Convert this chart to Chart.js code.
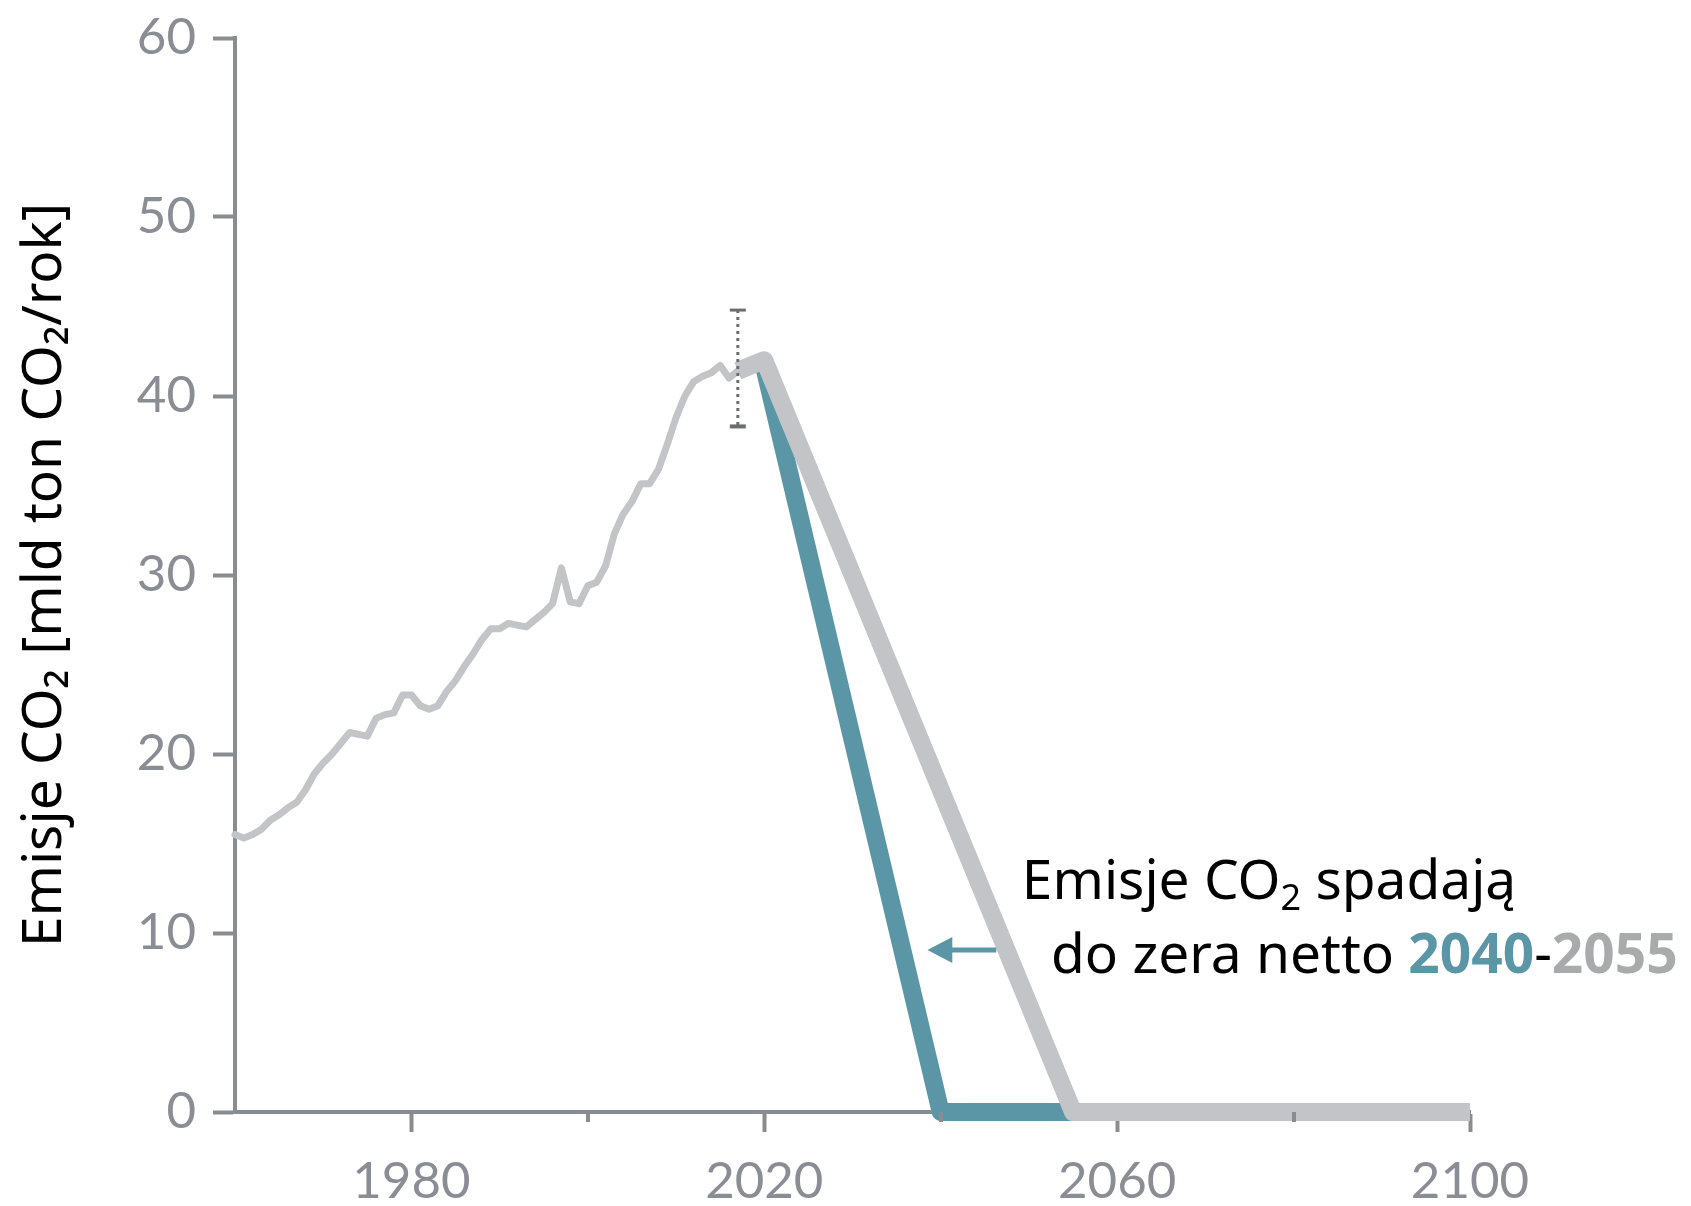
<!DOCTYPE html>
<html lang="pl">
<head>
<meta charset="utf-8">
<title>Emisje CO2 spadają do zera netto</title>
<script src="https://cdn.jsdelivr.net/npm/chart.js@4.4.1/dist/chart.umd.min.js"></script>
<style>
    html, body { margin: 0; padding: 0; background: #ffffff; }
    #wrap { width: 1691px; height: 1206px; }
</style>
</head>
<body>
<div id="wrap"><canvas id="chart" width="1691" height="1206"></canvas></div>
<script>
// Historical emissions (mld ton CO2 / rok)
const histYears = [
    1960, 1961, 1962, 1963, 1964, 1965, 1966, 1967, 1968, 1969,
    1970, 1971, 1972, 1973, 1974, 1975, 1976, 1977, 1978, 1979,
    1980, 1981, 1982, 1983, 1984, 1985, 1986, 1987, 1988, 1989,
    1990, 1991, 1992, 1993, 1994, 1995, 1996, 1997, 1998, 1999,
    2000, 2001, 2002, 2003, 2004, 2005, 2006, 2007, 2008, 2009,
    2010, 2011, 2012, 2013, 2014, 2015, 2016, 2017
];
const histValues = [
    15.5, 15.3, 15.5, 15.8, 16.3, 16.6, 17.0, 17.3, 18.0, 18.9,
    19.5, 20.0, 20.6, 21.2, 21.1, 21.0, 22.0, 22.2, 22.3, 23.3,
    23.3, 22.7, 22.5, 22.7, 23.5, 24.1, 24.9, 25.6, 26.4, 27.0,
    27.0, 27.3, 27.2, 27.1, 27.5, 27.9, 28.4, 30.4, 28.5, 28.4,
    29.4, 29.6, 30.5, 32.3, 33.4, 34.1, 35.1, 35.1, 35.9, 37.3,
    38.8, 40.0, 40.8, 41.1, 41.3, 41.7, 41.0, 41.4
];

// Pathway reaching net zero in 2055 (grey)
const slowYears = [2017, 2020, 2055, 2100];
const slowValues = [41.4, 42.0, 0, 0];

// Pathway reaching net zero in 2040 (teal)
const fastYears = [2020, 2040, 2055];
const fastValues = [41.6, 0, 0];

// Uncertainty range around present emissions
const rangeYear = 2017;
const rangeLow = 38.3;
const rangeHigh = 44.8;

// Axis ticks
const xLabelYears = [1980, 2020, 2060, 2100];
const xMinorYears = [2000, 2040, 2080];
const yTickValues = [0, 10, 20, 30, 40, 50, 60];

const AXIS = '#898c91';
const LABEL = '#8a8e94';
const GREY = '#c3c4c8';
const TEAL = '#5b96a7';
const TEXT_FONT = '"Noto Sans", "Open Sans", sans-serif';

function toPoints(xs, ys) {
    return xs.map((x, i) => ({ x: x, y: ys[i] }));
}

// Short unlabeled ticks at 2000, 2040, 2080
const minorTicks = {
    id: 'minorTicks',
    afterDraw(chart) {
        const ctx = chart.ctx;
        const x = chart.scales.x;
        const yb = chart.chartArea.bottom;
        ctx.save();
        ctx.strokeStyle = AXIS;
        ctx.lineWidth = 4;
        xMinorYears.forEach(yr => {
            const px = Math.round(x.getPixelForValue(yr));
            ctx.beginPath();
            ctx.moveTo(px, yb);
            ctx.lineTo(px, yb + 10);
            ctx.stroke();
        });
        ctx.restore();
    }
};

// Dotted range bar
const rangeBar = {
    id: 'rangeBar',
    afterDatasetsDraw(chart) {
        const ctx = chart.ctx;
        const x = chart.scales.x.getPixelForValue(rangeYear);
        const yTop = chart.scales.y.getPixelForValue(rangeHigh);
        const yBot = chart.scales.y.getPixelForValue(rangeLow);
        ctx.save();
        ctx.strokeStyle = '#6d6e70';
        ctx.lineWidth = 3;
        ctx.setLineDash([3, 4]);
        ctx.beginPath();
        ctx.moveTo(x, yTop);
        ctx.lineTo(x, yBot);
        ctx.stroke();
        ctx.setLineDash([]);
        ctx.fillStyle = '#6d6e70';
        ctx.fillRect(x - 8, yTop - 1.5, 16, 3);
        ctx.fillRect(x - 8, yBot - 2, 16, 4);
        ctx.restore();
    }
};

// Text annotation and arrow
const annotation = {
    id: 'annotation',
    afterDatasetsDraw(chart) {
        const ctx = chart.ctx;
        const xs = chart.scales.x;
        const ys = chart.scales.y;
        ctx.save();
        ctx.textBaseline = 'alphabetic';
        ctx.textAlign = 'left';

        // line 1: Emisje CO2 spadają
        let px = xs.getPixelForValue(2049.2);
        let py = ys.getPixelForValue(11.9);
        const normal = '55px ' + TEXT_FONT;
        const sub = '36px ' + TEXT_FONT;
        const bold = 'bold 55px ' + TEXT_FONT;
        const line1 = [
            { t: 'Emisje CO', f: normal, c: '#000000', dy: 0 },
            { t: '2', f: sub, c: '#000000', dy: 11 },
            { t: ' spadają', f: normal, c: '#000000', dy: 0 }
        ];
        line1.forEach(p => {
            ctx.font = p.f;
            ctx.fillStyle = p.c;
            ctx.fillText(p.t, px, py + p.dy);
            px += ctx.measureText(p.t).width;
        });

        // line 2: do zera netto 2040-2055
        px = xs.getPixelForValue(2052.5);
        py = ys.getPixelForValue(7.77);
        const line2 = [
            { t: 'do zera netto ', f: normal, c: '#000000' },
            { t: '2040', f: bold, c: TEAL },
            { t: '-', f: normal, c: '#000000' },
            { t: '2055', f: bold, c: '#a9aaac' }
        ];
        line2.forEach(p => {
            ctx.font = p.f;
            ctx.fillStyle = p.c;
            ctx.fillText(p.t, px, py);
            px += ctx.measureText(p.t).width;
        });

        // arrow pointing at the teal pathway
        const ay = ys.getPixelForValue(9.05);
        const tail = xs.getPixelForValue(2046.3);
        const base = xs.getPixelForValue(2041.2);
        const tip = xs.getPixelForValue(2038.5);
        ctx.strokeStyle = TEAL;
        ctx.fillStyle = TEAL;
        ctx.lineWidth = 5;
        ctx.beginPath();
        ctx.moveTo(tail, ay);
        ctx.lineTo(base, ay);
        ctx.stroke();
        ctx.beginPath();
        ctx.moveTo(tip, ay);
        ctx.lineTo(base + 1, ay - 13);
        ctx.lineTo(base + 1, ay + 13);
        ctx.closePath();
        ctx.fill();
        ctx.restore();
    }
};

const ctx = document.getElementById('chart').getContext('2d');
new Chart(ctx, {
    type: 'line',
    data: {
        datasets: [
            {
                label: 'Net zero 2055',
                data: toPoints(slowYears, slowValues),
                borderColor: GREY,
                borderWidth: 18,
                borderJoinStyle: 'round',
                borderCapStyle: 'butt',
                pointRadius: 0,
                tension: 0,
                clip: false
            },
            {
                label: 'Net zero 2040',
                data: toPoints(fastYears, fastValues),
                borderColor: TEAL,
                borderWidth: 18,
                borderJoinStyle: 'round',
                borderCapStyle: 'butt',
                pointRadius: 0,
                tension: 0,
                clip: false
            },
            {
                label: 'Historical',
                data: toPoints(histYears, histValues),
                borderColor: GREY,
                borderWidth: 7,
                borderJoinStyle: 'round',
                borderCapStyle: 'round',
                pointRadius: 0,
                tension: 0,
                clip: false
            }
        ]
    },
    options: {
        responsive: false,
        animation: false,
        events: [],
        layout: { padding: { top: 38, right: 221, left: 0, bottom: 0 } },
        plugins: {
            legend: { display: false },
            tooltip: { enabled: false }
        },
        scales: {
            x: {
                type: 'linear',
                min: 1960,
                max: 2100,
                afterBuildTicks: scale => {
                    scale.ticks = xLabelYears.map(v => ({ value: v }));
                },
                afterFit: scale => { scale.height = 94; },
                border: { display: true, color: AXIS, width: 4 },
                grid: {
                    drawOnChartArea: false,
                    drawTicks: true,
                    tickLength: 20,
                    tickWidth: 4,
                    tickColor: AXIS
                },
                ticks: {
                    color: LABEL,
                    padding: 19,
                    maxRotation: 0,
                    font: { family: 'Lato', size: 51 },
                    callback: v => String(v)
                }
            },
            y: {
                type: 'linear',
                min: 0,
                max: 60,
                afterBuildTicks: scale => {
                    scale.ticks = yTickValues.map(v => ({ value: v }));
                },
                afterFit: scale => {
                    scale.width = 235;
                    scale.paddingTop = 0;
                    scale.paddingBottom = 0;
                },
                border: { display: true, color: AXIS, width: 4 },
                grid: {
                    drawOnChartArea: false,
                    drawTicks: true,
                    tickLength: 22,
                    tickWidth: 4,
                    tickColor: AXIS
                },
                ticks: {
                    color: LABEL,
                    padding: 17,
                    font: { family: 'Lato', size: 51 },
                    callback: v => String(v)
                },
                title: {
                    display: true,
                    text: 'Emisje CO₂ [mld ton CO₂/rok]',
                    color: '#000000',
                    padding: { top: 12, bottom: 0 },
                    font: { family: 'Noto Sans', size: 55 }
                }
            }
        }
    },
    plugins: [minorTicks, rangeBar, annotation]
});
</script>
</body>
</html>
